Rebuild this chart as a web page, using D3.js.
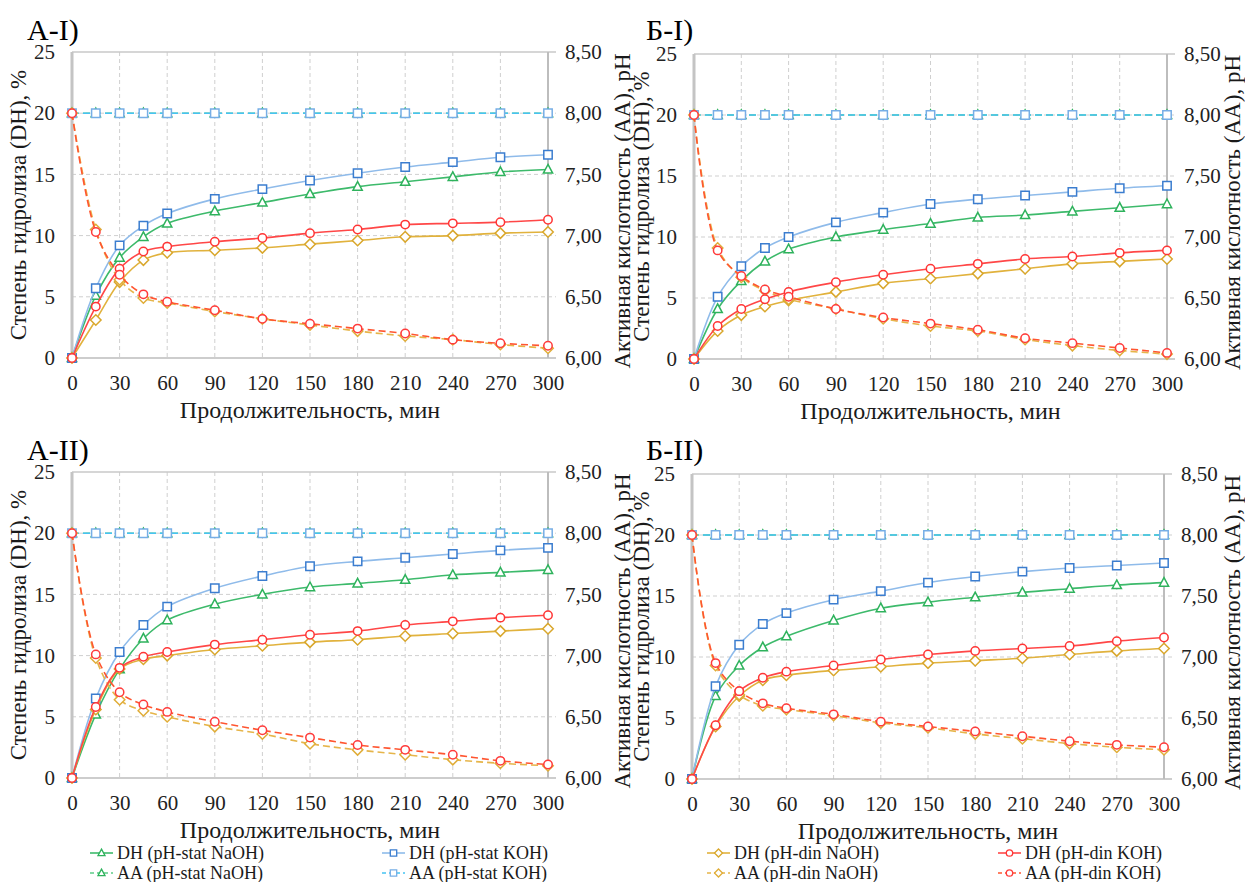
<!DOCTYPE html>
<html>
<head>
<meta charset="utf-8">
<script src="https://cdn.jsdelivr.net/npm/d3@7"></script>
</head>
<body style="margin:0">
<script>
// time points, min
const minutes = [0, 15, 30, 45, 60, 90, 120, 150, 180, 210, 240, 270, 300]
const xTicks = [0, 30, 60, 90, 120, 150, 180, 210, 240, 270, 300]
const dhTicks = [0, 5, 10, 15, 20, 25]
const phTicks = [6.0, 6.5, 7.0, 7.5, 8.0, 8.5]

// pH-stat keeps pH constant
const aaStatNaOH = [8.00, 8.00, 8.00, 8.00, 8.00, 8.00, 8.00, 8.00, 8.00, 8.00, 8.00, 8.00, 8.00]
const aaStatKOH = [8.00, 8.00, 8.00, 8.00, 8.00, 8.00, 8.00, 8.00, 8.00, 8.00, 8.00, 8.00, 8.00]

// A-I
const aI_dhStatNaOH = [0, 5.1, 8.2, 9.9, 11.0, 12.0, 12.7, 13.4, 14.0, 14.4, 14.8, 15.2, 15.4]
const aI_dhStatKOH = [0, 5.7, 9.2, 10.8, 11.8, 13.0, 13.8, 14.5, 15.1, 15.6, 16.0, 16.4, 16.6]
const aI_dhDinNaOH = [0, 3.1, 6.2, 8.0, 8.6, 8.8, 9.0, 9.3, 9.6, 9.9, 10.0, 10.2, 10.3]
const aI_dhDinKOH = [0, 4.2, 7.3, 8.7, 9.1, 9.5, 9.8, 10.2, 10.5, 10.9, 11.0, 11.1, 11.3]
const aI_aaDinNaOH = [8.00, 7.05, 6.64, 6.49, 6.45, 6.38, 6.32, 6.27, 6.22, 6.18, 6.15, 6.11, 6.08]
const aI_aaDinKOH = [8.00, 7.03, 6.68, 6.52, 6.46, 6.39, 6.32, 6.28, 6.24, 6.20, 6.15, 6.12, 6.10]

// Б-I
const bI_dhStatNaOH = [0, 4.1, 6.4, 8.0, 9.0, 10.0, 10.6, 11.1, 11.6, 11.8, 12.1, 12.4, 12.7]
const bI_dhStatKOH = [0, 5.1, 7.6, 9.1, 10.0, 11.2, 12.0, 12.7, 13.1, 13.4, 13.7, 14.0, 14.2]
const bI_dhDinNaOH = [0, 2.3, 3.6, 4.3, 4.8, 5.5, 6.2, 6.6, 7.0, 7.4, 7.8, 8.0, 8.2]
const bI_dhDinKOH = [0, 2.7, 4.1, 4.9, 5.5, 6.3, 6.9, 7.4, 7.8, 8.2, 8.4, 8.7, 8.9]
const bI_aaDinNaOH = [8.00, 6.91, 6.67, 6.56, 6.49, 6.41, 6.33, 6.27, 6.23, 6.16, 6.11, 6.07, 6.04]
const bI_aaDinKOH = [8.00, 6.89, 6.68, 6.57, 6.51, 6.41, 6.34, 6.29, 6.24, 6.17, 6.13, 6.09, 6.05]

// A-II
const aII_dhStatNaOH = [0, 5.2, 8.9, 11.4, 12.9, 14.2, 15.0, 15.6, 15.9, 16.2, 16.6, 16.8, 17.0]
const aII_dhStatKOH = [0, 6.5, 10.3, 12.5, 14.0, 15.5, 16.5, 17.3, 17.7, 18.0, 18.3, 18.6, 18.8]
const aII_dhDinNaOH = [0, 5.6, 8.9, 9.7, 10.0, 10.5, 10.8, 11.1, 11.3, 11.6, 11.8, 12.0, 12.2]
const aII_dhDinKOH = [0, 5.8, 9.0, 9.9, 10.3, 10.9, 11.3, 11.7, 12.0, 12.5, 12.8, 13.1, 13.3]
const aII_aaDinNaOH = [8.00, 6.98, 6.64, 6.55, 6.50, 6.42, 6.36, 6.28, 6.23, 6.19, 6.15, 6.12, 6.10]
const aII_aaDinKOH = [8.00, 7.01, 6.70, 6.60, 6.54, 6.46, 6.39, 6.33, 6.27, 6.23, 6.19, 6.14, 6.11]

// Б-II
const bII_dhStatNaOH = [0, 6.8, 9.3, 10.8, 11.7, 13.0, 14.0, 14.5, 14.9, 15.3, 15.6, 15.9, 16.1]
const bII_dhStatKOH = [0, 7.6, 11.0, 12.7, 13.6, 14.7, 15.4, 16.1, 16.6, 17.0, 17.3, 17.5, 17.7]
const bII_dhDinNaOH = [0, 4.3, 6.8, 8.1, 8.5, 8.9, 9.2, 9.5, 9.7, 9.9, 10.2, 10.5, 10.7]
const bII_dhDinKOH = [0, 4.4, 7.2, 8.3, 8.8, 9.3, 9.8, 10.2, 10.5, 10.7, 10.9, 11.3, 11.6]
const bII_aaDinNaOH = [8.00, 6.93, 6.69, 6.60, 6.57, 6.52, 6.46, 6.42, 6.37, 6.33, 6.29, 6.26, 6.24]
const bII_aaDinKOH = [8.00, 6.95, 6.72, 6.62, 6.58, 6.53, 6.47, 6.43, 6.39, 6.35, 6.31, 6.28, 6.26]

const xTitle = "Продолжительность, мин"
const leftTitle = "Степень гидролиза (DH), %"
const rightTitle = "Активная кислотность (AA), pH"

const FONT = "'Liberation Serif'"

// series look (draw order)
const STYLE = {
	dhStatNaOH: { name: "DH (pH-stat NaOH)", axis: "dh", line: "#3dba6b", mark: "#2eb25c", shape: "tri", dash: null },
	aaStatNaOH: { name: "AA (pH-stat NaOH)", axis: "ph", line: "#5ccd88", mark: "#2eb25c", shape: "tri", dash: "7,4" },
	dhStatKOH: { name: "DH (pH-stat KOH)", axis: "dh", line: "#8fbbea", mark: "#3b7dcf", shape: "sq", dash: null },
	aaStatKOH: { name: "AA (pH-stat KOH)", axis: "ph", line: "#46c3f2", mark: "#76aee6", shape: "sq", dash: "7,4" },
	dhDinNaOH: { name: "DH (pH-din NaOH)", axis: "dh", line: "#e1b23d", mark: "#d9a72c", shape: "dia", dash: null },
	aaDinNaOH: { name: "AA (pH-din NaOH)", axis: "ph", line: "#e6b54a", mark: "#e0ad38", shape: "dia", dash: "7,4" },
	dhDinKOH: { name: "DH (pH-din KOH)", axis: "dh", line: "#ff4747", mark: "#ff3535", shape: "circ", dash: null },
	aaDinKOH: { name: "AA (pH-din KOH)", axis: "ph", line: "#ff5530", mark: "#ff3b3b", shape: "circ", dash: "7,4" },
}

const PANELS = [
	{ label: "А-I)", lx: 27, ly: 40, x0: 72, x1: 548, y0: 52, y1: 358, lt: 18, rt: 622,
		data: { dhStatNaOH: aI_dhStatNaOH, aaStatNaOH, dhStatKOH: aI_dhStatKOH, aaStatKOH,
			dhDinNaOH: aI_dhDinNaOH, aaDinNaOH: aI_aaDinNaOH, dhDinKOH: aI_dhDinKOH, aaDinKOH: aI_aaDinKOH } },
	{ label: "Б-I)", lx: 646, ly: 40, x0: 694, x1: 1167, y0: 54, y1: 359, lt: 641, rt: 1232,
		data: { dhStatNaOH: bI_dhStatNaOH, aaStatNaOH, dhStatKOH: bI_dhStatKOH, aaStatKOH,
			dhDinNaOH: bI_dhDinNaOH, aaDinNaOH: bI_aaDinNaOH, dhDinKOH: bI_dhDinKOH, aaDinKOH: bI_aaDinKOH } },
	{ label: "А-II)", lx: 27, ly: 460, x0: 72, x1: 548, y0: 472, y1: 778, lt: 18, rt: 622,
		legend: { x: [90, 382], y: [853, 873], keys: [["dhStatNaOH", "dhStatKOH"], ["aaStatNaOH", "aaStatKOH"]] },
		data: { dhStatNaOH: aII_dhStatNaOH, aaStatNaOH, dhStatKOH: aII_dhStatKOH, aaStatKOH,
			dhDinNaOH: aII_dhDinNaOH, aaDinNaOH: aII_aaDinNaOH, dhDinKOH: aII_dhDinKOH, aaDinKOH: aII_aaDinKOH } },
	{ label: "Б-II)", lx: 646, ly: 460, x0: 692, x1: 1164, y0: 474, y1: 779, lt: 641, rt: 1232,
		legend: { x: [707, 998], y: [853, 873], keys: [["dhDinNaOH", "dhDinKOH"], ["aaDinNaOH", "aaDinKOH"]] },
		data: { dhStatNaOH: bII_dhStatNaOH, aaStatNaOH, dhStatKOH: bII_dhStatKOH, aaStatKOH,
			dhDinNaOH: bII_dhDinNaOH, aaDinNaOH: bII_aaDinNaOH, dhDinKOH: bII_dhDinKOH, aaDinKOH: bII_aaDinKOH } },
]

const W = 1245, H = 882

const svg = d3.select("body").append("svg")
	.attr("width", W)
	.attr("height", H)
	.style("display", "block")
	.style("font-family", FONT)

svg.append("rect").attr("width", W).attr("height", H).attr("fill", "#fff")

function markPath(shape, s) {
	if (shape === "sq") return `M${-s},${-s}H${s}V${s}H${-s}Z`
	if (shape === "dia") return `M0,${-s * 1.25}L${s * 1.25},0L0,${s * 1.25}L${-s * 1.25},0Z`
	if (shape === "tri") return `M0,${-s * 1.2}L${s * 1.1},${s * 0.85}L${-s * 1.1},${s * 0.85}Z`
	return d3.symbol(d3.symbolCircle, Math.PI * s * s)()
}

const phFmt = d => d3.format(".2f")(d).replace(".", ",")

function addText(g, size) {
	return g.append("text")
		.style("font-family", FONT)
		.style("font-size", size + "px")
		.attr("fill", "#1a1a1a")
}

function drawPanel(p) {
	const g = svg.append("g")

	const x = d3.scaleLinear().domain([0, 300]).range([p.x0, p.x1])
	const yDH = d3.scaleLinear().domain([0, 25]).range([p.y1, p.y0])
	const yPH = d3.scaleLinear().domain([6, 8.5]).range([p.y1, p.y0])

	// grid
	g.append("g").selectAll("line")
		.data(xTicks.filter(d => d > 0 && d < 300))
		.join("line")
		.attr("x1", d => x(d)).attr("x2", d => x(d))
		.attr("y1", p.y0).attr("y2", p.y1)
		.attr("stroke", "#cfcfcf").attr("stroke-dasharray", "4,3").attr("stroke-width", 1)
	g.append("g").selectAll("line")
		.data(dhTicks.filter(d => d > 0 && d < 25))
		.join("line")
		.attr("x1", p.x0).attr("x2", p.x1 + 8)
		.attr("y1", d => yDH(d)).attr("y2", d => yDH(d))
		.attr("stroke", "#cfcfcf").attr("stroke-dasharray", "4,3").attr("stroke-width", 1)

	// frame
	g.append("line").attr("x1", p.x0).attr("x2", p.x1 + 8).attr("y1", p.y0).attr("y2", p.y0)
		.attr("stroke", "#c8c8c8").attr("stroke-width", 1.5)
	g.append("line").attr("x1", p.x0).attr("x2", p.x1 + 8).attr("y1", p.y1).attr("y2", p.y1)
		.attr("stroke", "#bdbdbd").attr("stroke-width", 1.5)
	g.append("line").attr("x1", p.x0).attr("x2", p.x0).attr("y1", p.y0).attr("y2", p.y1)
		.attr("stroke", "#c4c4c4").attr("stroke-width", 3)
	g.append("line").attr("x1", p.x1).attr("x2", p.x1).attr("y1", p.y0).attr("y2", p.y1)
		.attr("stroke", "#bdbdbd").attr("stroke-width", 2)

	// axes (labels only)
	const ax = g.append("g").attr("transform", `translate(0,${p.y1})`)
		.call(d3.axisBottom(x).tickValues(xTicks).tickSize(0).tickPadding(17))
	const al = g.append("g").attr("transform", `translate(${p.x0},0)`)
		.call(d3.axisLeft(yDH).tickValues(dhTicks).tickSize(0).tickPadding(17))
	const ar = g.append("g").attr("transform", `translate(${p.x1},0)`)
		.call(d3.axisRight(yPH).tickValues(phTicks).tickSize(0).tickPadding(17).tickFormat(phFmt))
	for (const a of [ax, al, ar]) {
		a.select(".domain").remove()
		a.attr("font-family", null).attr("font-size", null)
		a.selectAll("text")
			.style("font-family", FONT)
			.style("font-size", "21px")
			.attr("fill", "#222")
	}

	// titles
	addText(g, 24)
		.attr("x", (p.x0 + p.x1) / 2).attr("y", p.y1 + 60)
		.attr("text-anchor", "middle")
		.text(xTitle)
	addText(g, 23)
		.attr("transform", `translate(${p.lt},${(p.y0 + p.y1) / 2}) rotate(-90)`)
		.attr("text-anchor", "middle").attr("dominant-baseline", "central")
		.text(leftTitle)
	addText(g, 23)
		.attr("transform", `translate(${p.rt},${(p.y0 + p.y1) / 2 + 6}) rotate(-90)`)
		.attr("text-anchor", "middle").attr("dominant-baseline", "central")
		.text(rightTitle)

	addText(g, 30)
		.attr("x", p.lx).attr("y", p.ly)
		.attr("fill", "#000")
		.text(p.label)

	// series
	for (const key of Object.keys(STYLE)) {
		const st = STYLE[key]
		const vals = p.data[key]
		const y = st.axis === "dh" ? yDH : yPH
		const pts = minutes.map((m, i) => [x(m), y(vals[i])])

		g.append("path")
			.attr("d", d3.line().curve(d3.curveCatmullRom.alpha(0.5))(pts))
			.attr("fill", "none")
			.attr("stroke", st.line)
			.attr("stroke-width", 1.6)
			.attr("stroke-dasharray", st.dash)

		g.append("g").selectAll("path")
			.data(pts)
			.join("path")
			.attr("transform", d => `translate(${d[0]},${d[1]})`)
			.attr("d", markPath(st.shape, 4.2))
			.attr("fill", "#fff")
			.attr("stroke", st.mark)
			.attr("stroke-width", 1.5)
	}

	if (p.legend) drawLegend(p.legend)
}

function drawLegend(lg) {
	const g = svg.append("g")
	lg.keys.forEach((row, r) => {
		row.forEach((key, c) => {
			const st = STYLE[key]
			const x0 = lg.x[c], y0 = lg.y[r]
			g.append("line")
				.attr("x1", x0).attr("x2", x0 + 23).attr("y1", y0).attr("y2", y0)
				.attr("stroke", st.line).attr("stroke-width", 1.6)
				.attr("stroke-dasharray", st.dash ? "4,3" : null)
			g.append("path")
				.attr("transform", `translate(${x0 + 11.5},${y0})`)
				.attr("d", markPath(st.shape, 3.2))
				.attr("fill", "#fff").attr("stroke", st.mark).attr("stroke-width", 1.3)
			addText(g, 18)
				.attr("x", x0 + 27).attr("y", y0)
				.attr("dominant-baseline", "central")
				.text(st.name)
		})
	})
}

PANELS.forEach(drawPanel)
</script>
</body>
</html>
